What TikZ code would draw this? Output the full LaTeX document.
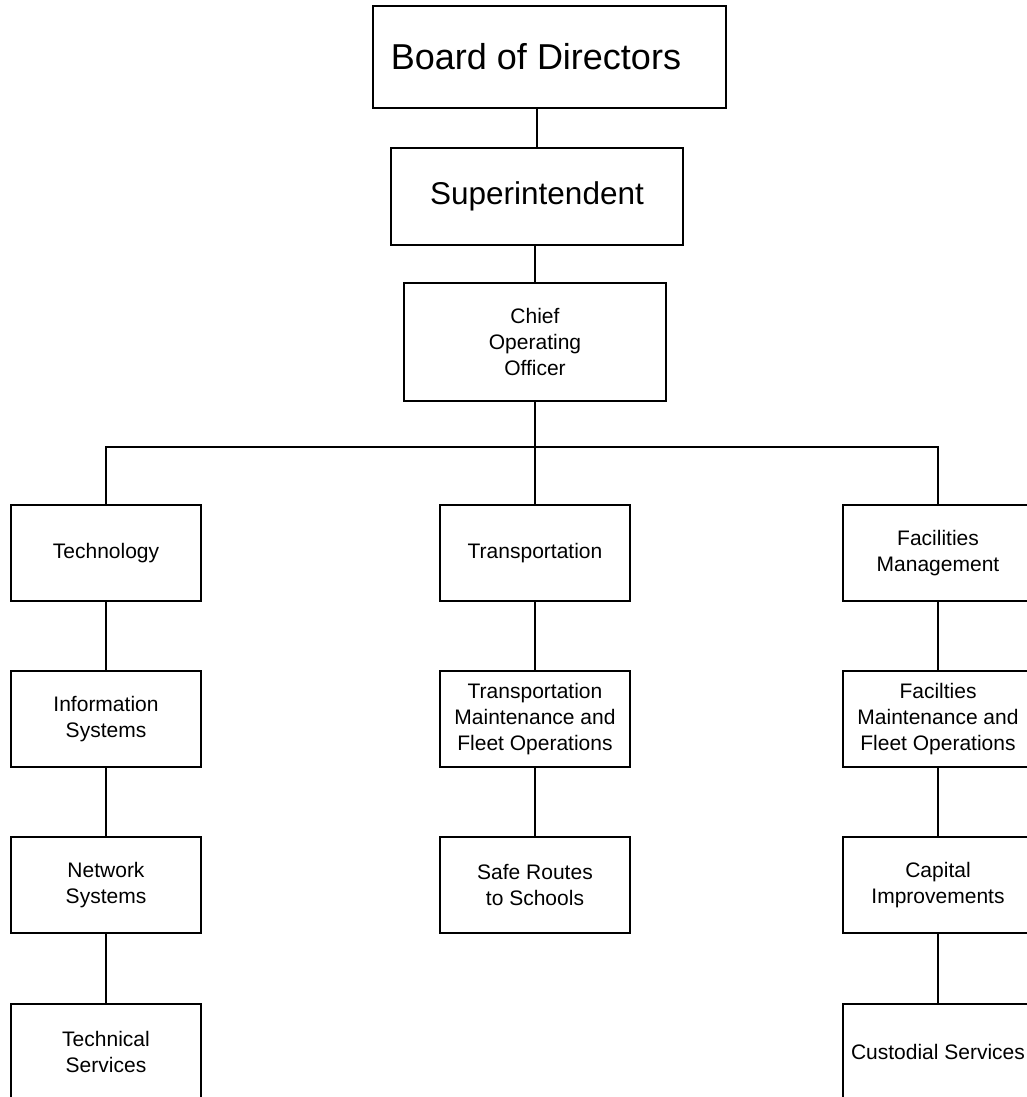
\documentclass[tikz,border=0pt]{standalone}
\usepackage{fontspec}
\setmainfont{Liberation Sans}
\usetikzlibrary{positioning, calc}

\begin{document}
\begin{tikzpicture}[
      x=1pt, y=-1pt,
      unit/.style={rectangle, draw, line width=1.4pt, fill=white,
                   minimum width=190pt, minimum height=96pt, inner sep=0pt,
                   align=center, font=\fontsize{21}{26}\selectfont},
      topunit/.style={unit, align=none, font=\fontsize{31.5}{38}\selectfont},
      link/.style={line width=1.4pt}
    ]
        \useasboundingbox (0,0) rectangle (1026,1097);
        % top of the chart
        \node[topunit, minimum width=353pt, minimum height=102pt, font=\fontsize{36}{42}\selectfont] (board) at (549.5,57) {Board of Directors\hspace*{27pt}};
        \node[topunit, minimum width=292pt, minimum height=97pt] (super) at (537,196.5) {Superintendent};
        \node[unit, minimum width=262pt, minimum height=118pt] (coo) at (535,342) {Chief\\Operating\\Officer};
        \coordinate (bus) at (535,447);
        % departments
        \node[unit] (tech) at (106,553) {Technology};
        \node[unit] (trans) at (535,553) {Transportation};
        \node[unit] (fac) at (938,553) {Facilities\\Management};
        \node[unit] (infosys) at (106,719) {Information\\Systems};
        \node[unit] (netsys) at (106,885) {Network\\Systems};
        \node[unit] (techsvc) at (106,1052) {Technical\\Services};
        \node[unit] (transmaint) at (535,719) {Transportation\\Maintenance and\\Fleet Operations};
        \node[unit] (saferoutes) at (535,885) {Safe Routes\\to Schools};
        \node[unit] (facmaint) at (938,719) {Facilties\\Maintenance and\\Fleet Operations};
        \node[unit] (capital) at (938,885) {Capital\\Improvements};
        \node[unit] (custodial) at (938,1052) {Custodial Services};
        % connectors
        \draw[link] (super.north) -- (super.north |- board.south);
        \draw[link] (coo.north) -- (coo.north |- super.south);
        \draw[link] (coo.south) -- (bus);
        \draw[link] (tech.north) |- (bus) -| (fac.north);
        \draw[link] (bus) -- (trans.north);
        \draw[link] (tech) -- (infosys);
        \draw[link] (infosys) -- (netsys);
        \draw[link] (netsys) -- (techsvc);
        \draw[link] (trans) -- (transmaint);
        \draw[link] (transmaint) -- (saferoutes);
        \draw[link] (fac) -- (facmaint);
        \draw[link] (facmaint) -- (capital);
        \draw[link] (capital) -- (custodial);
\end{tikzpicture}
\end{document}
